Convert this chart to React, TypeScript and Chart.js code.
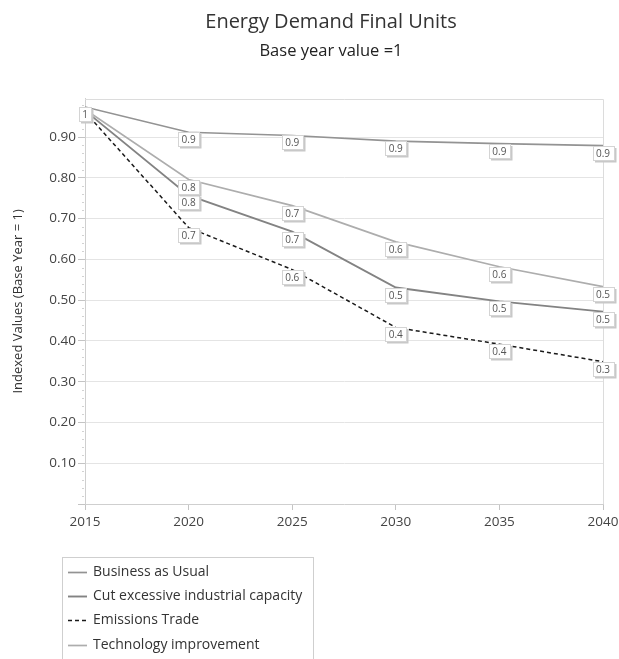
import React, { useEffect, useRef } from "react";
import { Chart, registerables } from "chart.js";

Chart.register(...registerables);

// ---- data ----
const years = [2015, 2020, 2025, 2030, 2035, 2040];
const businessAsUsual = [0.974, 0.912, 0.904, 0.89, 0.884, 0.879];
const cutExcessiveCapacity = [0.965, 0.757, 0.668, 0.531, 0.497, 0.472];
const emissionsTrade = [0.962, 0.678, 0.575, 0.433, 0.392, 0.349];
const technologyImprovement = [0.968, 0.796, 0.732, 0.643, 0.582, 0.533];
const seriesNames = [
  "Business as Usual",
  "Cut excessive industrial capacity",
  "Emissions Trade",
  "Technology improvement",
];
const chartTitle = "Energy Demand Final Units";
const chartSubtitle = "Base year value =1";
const yAxisTitle = "Indexed Values (Base Year = 1)";
const yMax = 0.994;
const yStep = 0.1;
const yMinorStep = 0.02;
const xStep = 5;

const FONT = '"Open Sans", "Segoe UI", sans-serif';

const toPoints = (vals: number[]) => years.map((x, i) => ({ x, y: vals[i] }));

const framePlugin = {
  id: "frameAndMinor",
  beforeDatasetsDraw(chart: any) {
    const { ctx, chartArea: a, scales } = chart;
    ctx.save();
    ctx.strokeStyle = "#dcdcdc";
    ctx.lineWidth = 1;
    ctx.beginPath();
    ctx.moveTo(a.left, Math.round(a.top) + 0.5);
    ctx.lineTo(Math.round(a.right) + 0.5, Math.round(a.top) + 0.5);
    ctx.lineTo(Math.round(a.right) + 0.5, a.bottom);
    ctx.stroke();
    const ys = scales.y;
    ctx.strokeStyle = "#d2d2d2";
    const n = Math.floor(yMax / yMinorStep + 1e-9);
    const ratio = Math.round(yStep / yMinorStep);
    for (let k = 1; k <= n; k++) {
      if (k % ratio === 0) continue;
      const py = Math.round(ys.getPixelForValue(k * yMinorStep)) + 0.5;
      ctx.beginPath();
      ctx.moveTo(a.left - 3, py);
      ctx.lineTo(a.left - 1, py);
      ctx.stroke();
    }
    ctx.restore();
  },
};

const labelPlugin = {
  id: "pointValueLabels",
  afterDatasetsDraw(chart: any) {
    const ctx = chart.ctx;
    const placed: { l: number; t: number; r: number; b: number }[] = [];
    ctx.save();
    ctx.font = `10px ${FONT}`;
    ctx.textAlign = "center";
    ctx.textBaseline = "middle";
    chart.data.datasets.forEach((ds: any, di: number) => {
      const meta = chart.getDatasetMeta(di);
      meta.data.forEach((pt: any, i: number) => {
        const v = ds.data[i].y;
        const txt = String(Math.round(v * 10) / 10);
        const w = Math.ceil(ctx.measureText(txt).width) + 6;
        const h = 14;
        const l = Math.round(pt.x - w / 2) + 0.5;
        const t = Math.round(pt.y) + 0.5;
        const rect = { l, t, r: l + w, b: t + h };
        if (placed.some((p) => p.l < rect.r && rect.l < p.r && p.t < rect.b && rect.t < p.b)) return;
        placed.push(rect);
        ctx.fillStyle = "#c8c8c8";
        ctx.fillRect(l + 1.5, t + 1.5, w + 0.5, h + 0.5);
        ctx.fillStyle = "#ffffff";
        ctx.fillRect(l, t, w, h);
        ctx.strokeStyle = "#d4d4d4";
        ctx.lineWidth = 1;
        ctx.strokeRect(l, t, w, h);
        ctx.fillStyle = "#555555";
        ctx.fillText(txt, pt.x, t + h / 2 + 0.5);
      });
    });
    ctx.restore();
  },
};

const legendPlugin = {
  id: "boxLegend",
  afterDraw(chart: any) {
    const ctx = chart.ctx;
    ctx.save();
    ctx.strokeStyle = "#cfcfcf";
    ctx.lineWidth = 1;
    ctx.strokeRect(62.5, 557.5, 251, 140);
    ctx.font = `14px ${FONT}`;
    ctx.textBaseline = "middle";
    ctx.textAlign = "left";
    chart.data.datasets.forEach((ds: any, i: number) => {
      const y = Math.round(572 + i * 24.2) + 0.5;
      ctx.strokeStyle = ds.borderColor;
      ctx.lineWidth = ds.borderWidth;
      ctx.setLineDash(ds.borderDash || []);
      ctx.beginPath();
      ctx.moveTo(68, y);
      ctx.lineTo(87, y);
      ctx.stroke();
      ctx.setLineDash([]);
      ctx.fillStyle = "#333333";
      ctx.fillText(ds.label, 93, y);
    });
    ctx.restore();
  },
};

export default function App() {
  const ref = useRef<HTMLCanvasElement>(null);

  useEffect(() => {
    const chart = new Chart(ref.current as HTMLCanvasElement, {
      type: "line",
      data: {
        datasets: [
          {
            label: seriesNames[0],
            data: toPoints(businessAsUsual),
            borderColor: "#939393",
            borderWidth: 1.7,
            pointRadius: 0,
            tension: 0,
          },
          {
            label: seriesNames[1],
            data: toPoints(cutExcessiveCapacity),
            borderColor: "#838383",
            borderWidth: 1.9,
            pointRadius: 0,
            tension: 0,
          },
          {
            label: seriesNames[2],
            data: toPoints(emissionsTrade),
            borderColor: "#1a1a1a",
            borderWidth: 1.5,
            borderDash: [4, 3],
            pointRadius: 0,
            tension: 0,
          },
          {
            label: seriesNames[3],
            data: toPoints(technologyImprovement),
            borderColor: "#adadad",
            borderWidth: 1.7,
            pointRadius: 0,
            tension: 0,
          },
        ],
      } as any,
      options: {
        responsive: false,
        animation: false,
        devicePixelRatio: 1,
        layout: { padding: { left: 0, right: 0, top: 0, bottom: 0 } },
        plugins: {
          legend: { display: false },
          tooltip: { enabled: false },
          title: {
            display: true,
            text: chartTitle,
            color: "#333333",
            font: { family: FONT, size: 20, weight: "normal" },
            padding: { top: 10, bottom: 0 },
          },
          subtitle: {
            display: true,
            text: chartSubtitle,
            color: "#222222",
            font: { family: FONT, size: 16.5, weight: "normal" },
            padding: { top: 7, bottom: 38 },
          },
        },
        scales: {
          x: {
            type: "linear",
            min: years[0],
            max: years[years.length - 1],
            ticks: {
              stepSize: xStep,
              callback: (v: any) => String(v),
              color: "#444444",
              font: { family: FONT, size: 13.5 },
              padding: 4,
              maxRotation: 0,
              autoSkip: false,
            },
            grid: { drawOnChartArea: false, drawTicks: true, tickLength: 6, tickColor: "#c4c4c4" },
            border: { display: true, color: "#cfcfcf" },
            afterFit: (s: any) => {
              s.height = 155;
            },
          },
          y: {
            min: 0,
            max: yMax,
            ticks: {
              stepSize: yStep,
              includeBounds: false,
              callback: (v: any) => (Number(v) === 0 ? "" : Number(v).toFixed(2)),
              color: "#444444",
              font: { family: FONT, size: 13.5 },
              padding: 2,
            },
            grid: {
              color: (c: any) => (c.tick && Math.abs(c.tick.value) < 1e-9 ? "rgba(0,0,0,0)" : "#e4e4e4"),
              tickLength: 7,
              tickColor: "#c4c4c4",
            },
            border: { display: true, color: "#cfcfcf" },
            title: {
              display: true,
              text: yAxisTitle,
              color: "#333333",
              font: { family: FONT, size: 13 },
              padding: { top: 10, bottom: 0 },
            },
            afterFit: (s: any) => {
              s.width = 85;
            },
          },
          yRightSpacer: {
            position: "right",
            display: true,
            min: 0,
            max: 1,
            grid: { display: false, drawTicks: false },
            ticks: { display: false },
            border: { display: false },
            afterFit: (s: any) => {
              s.width = 59;
            },
          },
        },
      } as any,
      plugins: [framePlugin, labelPlugin, legendPlugin],
    });
    return () => chart.destroy();
  }, []);

  return (
    <div
      style={{
        position: "fixed",
        left: 0,
        top: 0,
        width: 619,
        height: 659,
        overflow: "hidden",
        background: "#ffffff",
      }}
    >
      <canvas ref={ref} width={662} height={659} style={{ display: "block", width: 662, height: 659 }} />
    </div>
  );
}
